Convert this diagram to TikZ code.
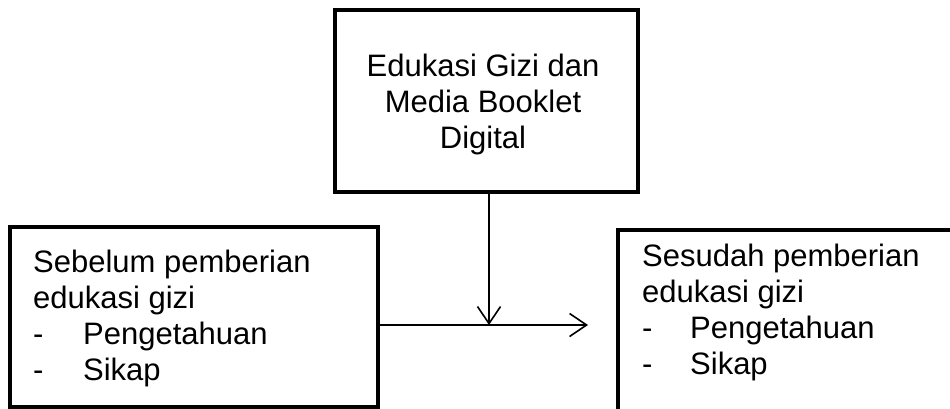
\documentclass[tikz,border=0pt]{standalone}
\usepackage{fontspec}
\setmainfont{Liberation Sans}
\usetikzlibrary{arrows.meta}
\begin{document}
\begin{tikzpicture}[x=1pt,y=-1pt,
  boxstyle/.style={draw=black, line width=3.6pt, rectangle, inner sep=0pt},
  txt/.style={inner sep=0pt, font=\fontsize{31}{36}\selectfont},
  conn/.style={line width=1.6pt, -{Straight Barb[length=17pt,width=23pt,line width=1.6pt]}},
  plain/.style={line width=1.6pt}]
\useasboundingbox (0,0) rectangle (950,409);
\clip (0,0) rectangle (950,409);
% boxes
\node[boxstyle, minimum width=303pt, minimum height=182pt] (top) at (486.5,101) {};
\node[boxstyle, minimum width=368pt, minimum height=180pt] (left) at (194,317) {};
\node[boxstyle, minimum width=400pt, minimum height=240pt] (right) at (818,350) {};
% texts
\node[txt, anchor=base] (toptext) at (483,77) {\begin{tabular}[t]{@{}c@{}}Edukasi Gizi dan\\ Media Booklet\\ Digital\end{tabular}};
\node[txt, anchor=base west] (lefttext) at (33,272) {\begin{tabular}[t]{@{}l@{}}Sebelum pemberian\\ edukasi gizi\\ \makebox[50pt][l]{-}Pengetahuan\\ \makebox[50pt][l]{-}Sikap\end{tabular}};
\node[txt, anchor=base west] (righttext) at (642,266) {\begin{tabular}[t]{@{}l@{}}Sesudah pemberian\\ edukasi gizi\\ \makebox[48pt][l]{-}Pengetahuan\\ \makebox[48pt][l]{-}Sikap\end{tabular}};
% connectors
\coordinate (junction) at (489,325);
\coordinate (tipend) at (588,325);
\draw[conn] (top.south -| junction) -- (junction);
\draw[conn] (left.east |- junction) -- (tipend);
\end{tikzpicture}
\end{document}
